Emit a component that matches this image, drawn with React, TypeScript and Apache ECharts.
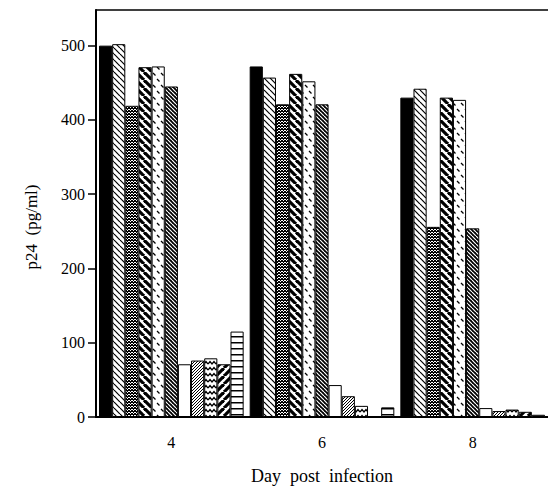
import React, { useEffect, useRef } from 'react';
import * as echarts from 'echarts';

const categories = ['4', '6', '8'];
const yTicks = [0, 100, 200, 300, 400, 500];
const yMax = 548;

const sSolid = [500, 472, 430];
const sThinDiag = [502, 457, 442];
const sDarkDots = [419, 421, 256];
const sBoldDiag = [471, 462, 430];
const sDashes = [472, 452, 427];
const sDenseHatch = [445, 421, 254];
const sWhite = [71, 43, 12];
const sLightDots = [76, 28, 8];
const sWavy = [79, 15, 10];
const sBoldRev = [71, 0, 7];
const sHoriz = [115, 13, 3];

type Draw = (ctx: CanvasRenderingContext2D, w: number, h: number) => void;

function tile(w: number, h: number, draw: Draw, bg = '#fff') {
  const c = document.createElement('canvas');
  c.width = w;
  c.height = h;
  const ctx = c.getContext('2d') as CanvasRenderingContext2D;
  ctx.fillStyle = bg;
  ctx.fillRect(0, 0, w, h);
  ctx.strokeStyle = '#000';
  ctx.fillStyle = '#000';
  draw(ctx, w, h);
  return { image: c, repeat: 'repeat', imageWidth: w, imageHeight: h } as any;
}

function diag(p: number, lw: number, back: boolean, color = '#000', bg = '#fff') {
  return tile(
    p,
    p,
    (ctx) => {
      ctx.strokeStyle = color;
      ctx.lineWidth = lw;
      for (let k = -1; k <= 1; k++) {
        ctx.beginPath();
        if (back) {
          ctx.moveTo(k * p, 0);
          ctx.lineTo(k * p + p, p);
        } else {
          ctx.moveTo(k * p + p, 0);
          ctx.lineTo(k * p, p);
        }
        ctx.stroke();
      }
    },
    bg
  );
}

function dots(cells: number[][], n: number) {
  return tile(n, n, (ctx) => {
    cells.forEach(([x, y]) => ctx.fillRect(x, y, 1, 1));
  });
}

export default function App() {
  const ref = useRef<HTMLDivElement>(null);
  useEffect(() => {
    if (!ref.current) return;
    const chart = echarts.init(ref.current, undefined, { renderer: 'svg' });

    const pSolid = '#000';
    const pThin = diag(6, 1.2, true);
    const pDark = dots([[0, 0], [2, 0], [1, 1], [0, 2], [2, 2], [1, 0]], 3);
    const pBold = diag(8, 3.2, true);
    const pDash = tile(8, 12, (ctx) => {
      ctx.lineWidth = 1.3;
      ctx.beginPath();
      ctx.moveTo(1, 1);
      ctx.lineTo(3.5, 3.5);
      ctx.moveTo(5, 7);
      ctx.lineTo(7.5, 9.5);
      ctx.stroke();
    });
    const pDense = diag(4, 1.2, true, '#fff', '#000');
    const pWhite = '#fff';
    const pLight = dots([[0, 0], [2, 1], [1, 2]], 3);
    const pWavy = tile(8, 6, (ctx) => {
      ctx.lineWidth = 1.3;
      ctx.beginPath();
      ctx.moveTo(0, 4);
      ctx.lineTo(2, 1.5);
      ctx.lineTo(4, 4);
      ctx.lineTo(6, 1.5);
      ctx.lineTo(8, 4);
      ctx.stroke();
    });
    const pRev = diag(8, 3.2, false);
    const pHoriz = tile(4, 6, (ctx) => {
      ctx.fillRect(0, 0, 4, 1.5);
    });

    const seriesDefs: [number[], any][] = [
      [sSolid, pSolid],
      [sThinDiag, pThin],
      [sDarkDots, pDark],
      [sBoldDiag, pBold],
      [sDashes, pDash],
      [sDenseHatch, pDense],
      [sWhite, pWhite],
      [sLightDots, pLight],
      [sWavy, pWavy],
      [sBoldRev, pRev],
      [sHoriz, pHoriz],
    ];

    const font = 'Liberation Serif';

    chart.setOption({
      animation: false,
      grid: {
        left: 96,
        right: 0,
        top: 10,
        bottom: 73,
        containLabel: false,
        outerBoundsMode: 'none',
      },
      xAxis: [
        {
          type: 'category',
          data: categories,
          position: 'bottom',
          axisLine: { lineStyle: { color: '#000', width: 2 } },
          axisTick: { alignWithLabel: true, length: 8, lineStyle: { color: '#000', width: 1.5 } },
          axisLabel: { color: '#000', fontFamily: font, fontSize: 16, margin: 17 },
          name: 'Day  post  infection',
          nameLocation: 'middle',
          nameGap: 50,
          nameTextStyle: { color: '#000', fontFamily: font, fontSize: 18 },
        },
        {
          type: 'category',
          data: categories,
          position: 'top',
          axisLine: { lineStyle: { color: '#000', width: 1.5 } },
          axisTick: { show: false },
          axisLabel: { show: false },
        },
      ],
      yAxis: {
        type: 'value',
        min: 0,
        max: yMax,
        interval: 100,
        axisLine: { show: true, lineStyle: { color: '#000', width: 2 } },
        axisTick: { show: true, length: 8, customValues: yTicks, lineStyle: { color: '#000', width: 1.5 } },
        axisLabel: { color: '#000', fontFamily: font, fontSize: 16, margin: 11, customValues: yTicks },
        splitLine: { show: false },
      },
      graphic: [
        {
          type: 'text',
          x: 31,
          y: 227,
          rotation: Math.PI / 2,
          style: {
            text: 'p24  (pg/ml)',
            fontFamily: font,
            fontSize: 17,
            fill: '#000',
            textAlign: 'center',
            textVerticalAlign: 'middle',
          },
        },
      ],
      series: seriesDefs.map(([data, color]) => ({
        type: 'bar',
        xAxisIndex: 0,
        data,
        barGap: '0%',
        barCategoryGap: '4%',
        itemStyle: { color, borderColor: '#000', borderWidth: 1 },
        emphasis: { disabled: true },
      })),
    });

    return () => chart.dispose();
  }, []);

  return (
    <div
      ref={ref}
      style={{ position: 'fixed', left: 0, top: 0, width: 548, height: 490, background: '#fff' }}
    />
  );
}
